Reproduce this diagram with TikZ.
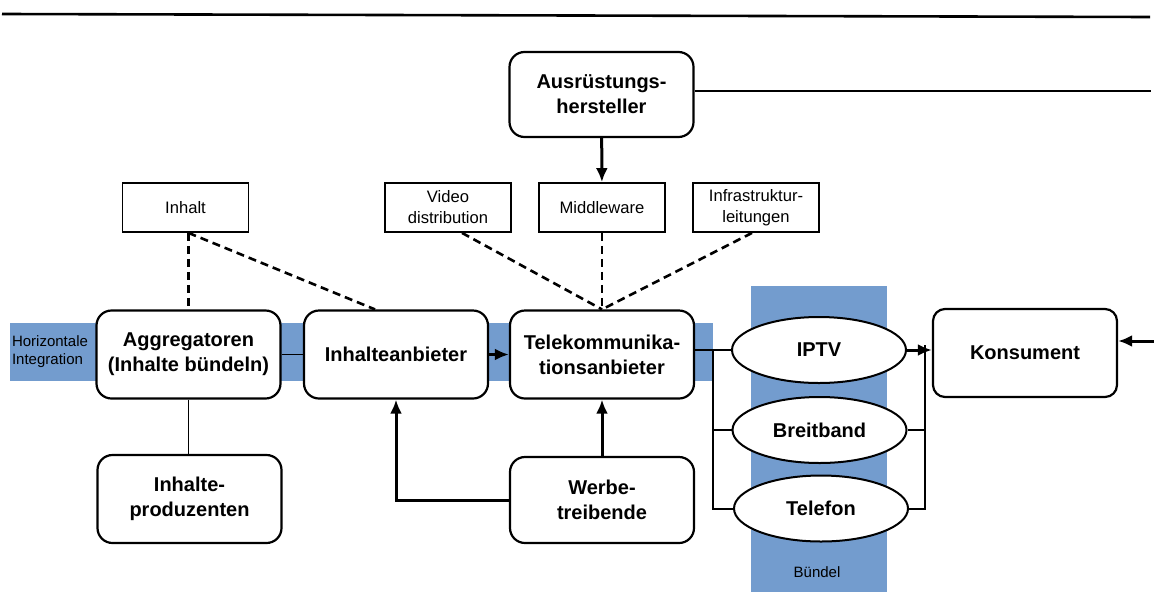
\documentclass[tikz,border=0pt]{standalone}
\usepackage{fontspec}
\setmainfont{Liberation Sans}
\usetikzlibrary{shapes.geometric,arrows.meta}
\definecolor{bandblue}{RGB}{115,156,206}
\tikzset{
  actor/.style={draw, line width=1.1pt, rounded corners=7.5pt, fill=white, align=center,
    minimum width=92pt, minimum height=44pt, inner sep=0pt,
    font=\bfseries\fontsize{10}{12.5}\selectfont},
  asset/.style={draw, line width=0.9pt, fill=white, align=center,
    minimum width=63pt, minimum height=24.5pt, inner sep=0pt,
    font=\fontsize{8.3}{10.5}\selectfont},
  service/.style={draw, ellipse, line width=1pt, fill=white,
    minimum width=87pt, minimum height=33pt, inner sep=0pt,
    font=\bfseries\fontsize{10}{12}\selectfont},
  link/.style={line width=0.9pt},
  flow/.style={line width=1.5pt, -{Latex[length=7pt,width=6pt]}},
  supply/.style={line width=1.3pt, dash pattern=on 4pt off 2.5pt},
  bandlabel/.style={font=\fontsize{7.5}{9}\selectfont, align=left}
}
\begin{document}
\begin{tikzpicture}[x=0.5pt,y=-0.5pt]
            \useasboundingbox (0,0) rectangle (1154,594);
            \draw[line width=1.3pt] (2,14) -- (1150,17);
            % bands
            \fill[bandblue] (10,323) rectangle (713,381);
            \fill[bandblue] (751,286) rectangle (887,592);
            \node[bandlabel, anchor=center] at (50,352) (horiz) {Horizontale\\Integration};
            \node[bandlabel, anchor=center] at (817,572) (buendel) {Bündel};

            \node[actor] at (188.5,354.5) (aggr) {Aggregatoren\\(Inhalte bündeln)};
            \node[actor] at (396,354.5) (anbieter) {Inhalteanbieter};
            \node[actor] at (602,354.5) (telekom) {Telekommunika-\\tionsanbieter};
            \node[actor, minimum height=42.5pt] at (601.5,94.5) (ausruest) {Ausrüstungs-\\hersteller};
            \node[actor] at (189.5,499) (produz) {Inhalte-\\produzenten};
            \node[actor, minimum height=43pt] at (602,500) (werbe) {Werbe-\\treibende};
            \node[actor, rounded corners=6pt] at (1025,353) (konsument) {Konsument};

            \node[asset] at (185.5,207.5) (inhalt) {Inhalt};
            \node[asset] at (448,207.5) (video) {Video\\distribution};
            \node[asset] at (602,207.5) (middle) {Middleware};
            \node[asset] at (756,207.5) (infra) {Infrastruktur-\\leitungen};

            \node[service] at (819,350) (iptv) {IPTV};
            \node[service] at (819.5,430) (bb) {Breitband};
            \node[service] at (821,508.5) (tel) {Telefon};

            \coordinate (split) at (713,350);
            \coordinate (join) at (925,345);
            \coordinate (rtop) at (1151,91);
            \coordinate (rin) at (1154,341);

            \draw[link] (aggr) -- (anbieter);
            \draw[flow] (anbieter) -- (telekom);
            \draw[link] (aggr.south) -- (aggr.south |- produz.north);
            \draw[flow] (werbe) -- (telekom);
            \draw[flow] (werbe.west) -| (anbieter.south);
            \draw[flow] (ausruest) -- (middle);
            \draw[link, line width=1pt] (ausruest.east |- rtop) -- (rtop);
            \draw[flow] (rin) -- (konsument.east |- rin);

            \draw[supply] (inhalt.south -| aggr.north) -- (aggr.north);
            \draw[supply] (inhalt.south -| aggr.north) -- ([xshift=-10.5pt]anbieter.north);
            \draw[supply] ([xshift=7pt]video.south) -- (telekom.north);
            \draw[supply] (middle.south) -- (telekom.north);
            \draw[supply] ([xshift=-2pt]infra.south) -- (telekom.north);

            \draw[link, line width=1pt] (telekom.east |- split) -- (iptv.west);
            \draw[link, line width=1pt] (split) |- (bb.west);
            \draw[link, line width=1pt] (split) |- (tel.west);
            \draw[flow] (iptv.east) -- (konsument.west |- iptv);
            \draw[link, line width=1pt] (join) |- (bb.east);
            \draw[link, line width=1pt] (join) |- (tel.east);
        \end{tikzpicture}
\end{document}
